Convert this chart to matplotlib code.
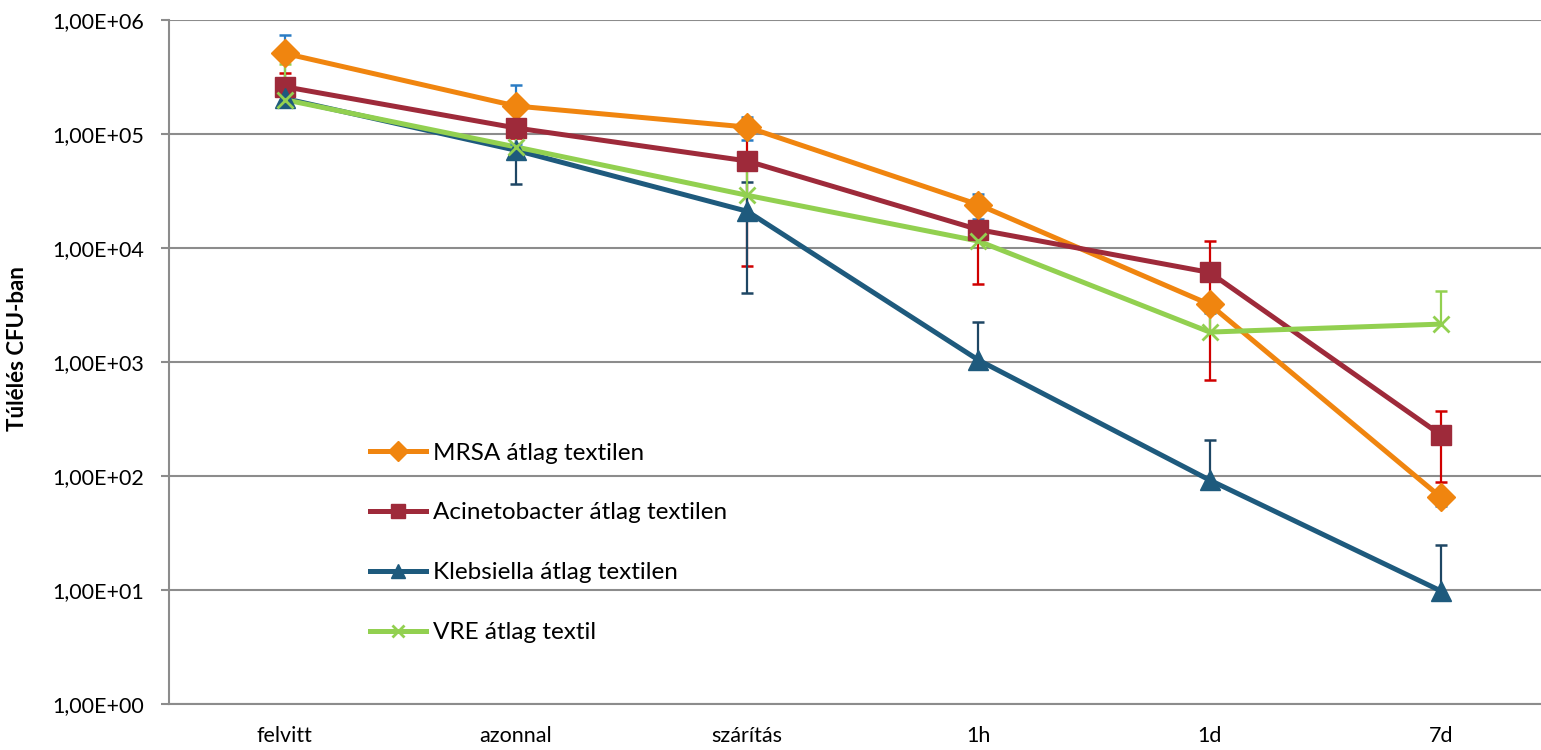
import numpy as np
import matplotlib
matplotlib.use("Agg")
import matplotlib.pyplot as plt

plt.rcParams["font.family"] = ["Lato", "DejaVu Sans"]

categories = ["felvitt", "azonnal", "szárítás", "1h", "1d", "7d"]

mrsa = [5.1e5, 1.76e5, 1.15e5, 2.4e4, 3.2e3, 65]
mrsa_err = [2.3e5, 9.5e4, 2.6e4, 6.0e3, 5.0e2, 10]

acineto = [2.6e5, 1.13e5, 5.8e4, 1.45e4, 6.1e3, 229]
acineto_err = [8.5e4, 2.0e4, 5.1e4, 9.7e3, 5.4e3, 140]

klebs = [2.05e5, 7.2e4, 2.1e4, 1.04e3, 92, 9.8]
klebs_err = [3.2e4, 3.55e4, 1.7e4, 1.2e3, 115, 15]

# VRE only has the plus side
vre = [2.0e5, 7.7e4, 2.9e4, 1.15e4, 1.83e3, 2.15e3]
vre_err = [2.1e5, 5.0e4, 2.5e4, 3.0e3, 9.0e2, 2.05e3]

series = [
	("MRSA átlag textilen", mrsa, mrsa_err, True, "#f0850f", "#2a7cc4", "D", 14),
	("Acinetobacter átlag textilen", acineto, acineto_err, True, "#9e2a3a", "#d00000", "s", 14),
	("Klebsiella átlag textilen", klebs, klebs_err, True, "#1e5a7d", "#1e4664", "^", 15),
	("VRE átlag textil", vre, vre_err, False, "#92d050", "#92d050", "x", 12),
]

y_ticks = [1e0, 1e1, 1e2, 1e3, 1e4, 1e5, 1e6]
y_tick_labels = ["1,00E+00", "1,00E+01", "1,00E+02", "1,00E+03", "1,00E+04", "1,00E+05", "1,00E+06"]

fig = plt.figure(figsize=(15.41, 7.5), dpi=100)
ax = fig.add_axes([169 / 1541, 46 / 750, 1372 / 1541, 684 / 750])

x = np.arange(len(categories))

# lines first, then every error bar, then the markers on top
for i, (label, vals, errs, minus, color, ecolor, marker, ms) in enumerate(series):
	vals = np.asarray(vals, dtype=float)
	errs = np.asarray(errs, dtype=float)
	hi = vals + errs
	# a lower bound at or below zero cannot sit on a log axis
	ok = (errs < vals) & minus
	lo = np.where(ok, vals - errs, vals)

	ax.plot(x, vals, color=color, lw=3.6, zorder=2 + 0.01 * i, solid_joinstyle="round",
			solid_capstyle="round")
	ax.vlines(x, lo, hi, color=ecolor, lw=1.6, zorder=3)
	ax.plot(x, hi, ls="none", marker="_", ms=9, mew=1.8, color=ecolor, zorder=3)
	ax.plot(x[ok], lo[ok], ls="none", marker="_", ms=9, mew=1.8, color=ecolor, zorder=3)
	ax.plot(x, vals, ls="none", marker=marker, ms=ms, mew=2 if marker == "x" else 1,
			mec=color, mfc=color, zorder=4 + 0.01 * i)
	# proxy artist for the legend
	ax.plot([], [], color=color, lw=3.6, marker=marker, ms=ms, mew=2 if marker == "x" else 1,
			mec=color, mfc=color, label=label)

ax.set_yscale("log")
ax.set_ylim(1e0, 1e6)
ax.set_xlim(-0.5, 5 + 100 / 231.2)
ax.set_yticks(y_ticks)
ax.set_yticklabels(y_tick_labels)
ax.minorticks_off()
ax.set_xticks(x)
ax.set_xticklabels(categories)

ax.yaxis.grid(True, color="#8c8c8c", lw=1.5)
ax.set_axisbelow(True)
for side in ("top", "right"):
	ax.spines[side].set_visible(False)
for side in ("left", "bottom"):
	ax.spines[side].set_color("#8c8c8c")
	ax.spines[side].set_linewidth(1.5)

ax.tick_params(axis="y", length=6, width=1.5, color="#8c8c8c", labelsize=15.5, pad=12)
ax.tick_params(axis="x", length=0, labelsize=15.5, pad=16)
ax.set_ylabel("Túlélés CFU-ban", fontsize=16, fontweight="bold")
ax.yaxis.set_label_coords(-0.103, 0.52)

ax.legend(loc="upper left", bbox_to_anchor=(0.1377, 0.4), frameon=False, fontsize=17.5,
		  handlelength=2.3, handletextpad=0.3, labelspacing=1.6, borderpad=0,
		  markerscale=0.7)

fig.savefig("out.png", dpi=100)
